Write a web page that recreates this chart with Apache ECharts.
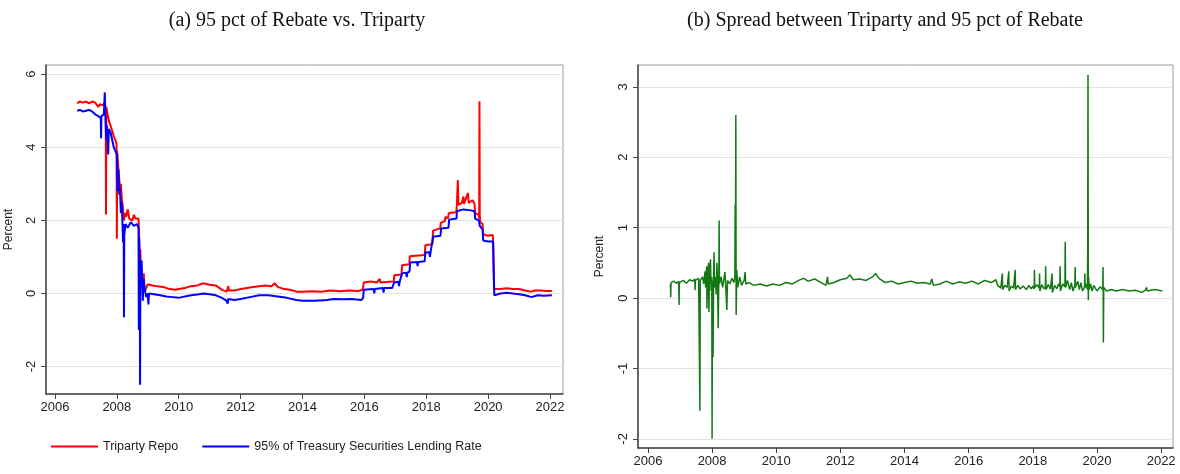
<!DOCTYPE html>
<html>
<head>
<meta charset="utf-8">
<script src="https://cdn.jsdelivr.net/npm/echarts@6/dist/echarts.min.js"></script>
<style>
html,body{margin:0;padding:0;background:#fff;}
#c{width:1180px;height:474px;}
</style>
</head>
<body>
<div id="c"></div>
<script>
// ---- data (decimal year, percent) ----
const yearTicks = [2006, 2008, 2010, 2012, 2014, 2016, 2018, 2020, 2022];
const leftYTicks = [-2, 0, 2, 4, 6];
const rightYTicks = [-2, -1, 0, 1, 2, 3];
const titleA = '(a) 95 pct of Rebate vs. Triparty';
const titleB = '(b) Spread between Triparty and 95 pct of Rebate';
const nameRepo = 'Triparty Repo';
const nameRebate = '95% of Treasury Securities Lending Rate';

const tripartyRepo = [
[2006.72,5.20],[2006.80,5.25],[2006.90,5.22],[2007.00,5.25],[2007.10,5.20],[2007.20,5.25],[2007.30,5.22],[2007.40,5.10],
[2007.45,5.18],[2007.55,5.15],[2007.60,5.22],[2007.64,5.05],[2007.65,2.16],[2007.66,5.10],[2007.70,4.90],[2007.75,4.70],
[2007.80,4.72],[2007.85,4.45],[2007.90,4.30],[2007.95,4.20],[2007.99,4.10],[2008.00,1.50],[2008.01,3.90],[2008.05,3.40],
[2008.08,3.10],[2008.10,2.80],[2008.13,3.00],[2008.16,2.60],[2008.20,2.30],[2008.23,2.00],[2008.26,2.20],[2008.30,2.10],
[2008.35,2.30],[2008.40,2.05],[2008.45,2.10],[2008.50,2.00],[2008.55,2.15],[2008.60,2.05],[2008.65,2.10],[2008.70,2.05],
[2008.72,1.60],[2008.74,0.90],[2008.76,1.20],[2008.78,0.50],[2008.80,0.70],[2008.84,0.20],[2008.87,0.55],[2008.90,0.05],
[2008.95,0.00],[2009.00,0.25],[2009.05,0.30],[2009.15,0.22],[2009.30,0.20],[2009.50,0.18],[2009.70,0.12],[2009.90,0.10],
[2010.00,0.12],[2010.20,0.15],[2010.40,0.20],[2010.60,0.22],[2010.80,0.28],[2011.00,0.24],[2011.20,0.22],[2011.40,0.10],
[2011.55,0.05],[2011.60,0.20],[2011.62,0.08],[2011.80,0.08],[2012.00,0.12],[2012.20,0.15],[2012.40,0.18],[2012.60,0.20],
[2012.80,0.22],[2013.00,0.20],[2013.10,0.28],[2013.20,0.18],[2013.40,0.12],[2013.60,0.10],[2013.80,0.05],[2014.00,0.05],
[2014.30,0.06],[2014.60,0.05],[2014.90,0.08],[2015.20,0.06],[2015.50,0.08],[2015.80,0.07],[2015.95,0.10],[2015.98,0.30],
[2016.20,0.33],[2016.40,0.30],[2016.50,0.40],[2016.52,0.30],[2016.80,0.32],[2016.95,0.33],[2016.97,0.50],[2017.20,0.52],
[2017.22,0.77],[2017.45,0.80],[2017.47,1.02],[2017.95,1.05],[2017.97,1.32],[2018.20,1.35],[2018.22,1.72],[2018.45,1.78],
[2018.47,1.93],[2018.60,1.98],[2018.62,2.10],[2018.70,2.05],[2018.73,2.20],[2018.97,2.22],[2018.99,2.42],[2019.02,3.10],
[2019.04,2.42],[2019.15,2.48],[2019.20,2.65],[2019.22,2.45],[2019.35,2.75],[2019.37,2.48],[2019.50,2.55],[2019.56,2.45],
[2019.58,2.20],[2019.70,2.15],[2019.71,2.05],[2019.72,5.26],[2019.73,2.10],[2019.75,1.95],[2019.82,1.90],[2019.84,1.62],
[2020.00,1.58],[2020.15,1.60],[2020.17,1.20],[2020.19,0.12],[2020.40,0.12],[2020.60,0.14],[2020.80,0.12],[2021.00,0.12],
[2021.20,0.08],[2021.40,0.05],[2021.50,0.08],[2021.70,0.08],[2021.90,0.07],[2022.06,0.07]
];

const rebate95 = [
[2006.72,5.00],[2006.80,5.02],[2006.90,4.98],[2007.00,5.00],[2007.10,5.02],[2007.20,4.98],[2007.30,4.90],[2007.40,4.85],
[2007.48,4.80],[2007.49,4.25],[2007.50,4.85],[2007.58,4.90],[2007.61,5.50],[2007.63,4.90],[2007.66,4.20],[2007.68,4.60],
[2007.72,3.80],[2007.74,4.50],[2007.80,4.40],[2007.85,4.20],[2007.90,4.00],[2007.95,3.90],[2008.00,3.80],[2008.02,2.80],
[2008.05,3.40],[2008.08,2.70],[2008.10,2.90],[2008.13,2.20],[2008.16,2.50],[2008.20,1.40],[2008.22,1.90],[2008.23,-0.65],
[2008.24,1.60],[2008.28,1.90],[2008.35,1.80],[2008.45,1.95],[2008.55,1.85],[2008.65,1.90],[2008.70,1.80],[2008.71,-1.00],
[2008.72,1.50],[2008.74,0.80],[2008.75,-2.50],[2008.76,0.60],[2008.80,0.90],[2008.84,-0.20],[2008.86,0.40],[2008.90,0.10],
[2008.95,-0.10],[2009.00,0.00],[2009.02,-0.30],[2009.04,0.00],[2009.10,0.05],[2009.20,-0.02],[2009.40,-0.05],[2009.60,-0.08],
[2009.80,-0.10],[2010.00,-0.12],[2010.20,-0.08],[2010.40,-0.05],[2010.60,-0.03],[2010.80,0.00],[2011.00,-0.02],[2011.20,-0.05],
[2011.40,-0.12],[2011.55,-0.20],[2011.58,-0.28],[2011.60,-0.15],[2011.80,-0.18],[2012.00,-0.15],[2012.30,-0.10],[2012.60,-0.05],
[2012.90,-0.05],[2013.20,-0.08],[2013.50,-0.12],[2013.80,-0.18],[2014.00,-0.20],[2014.40,-0.20],[2014.80,-0.18],[2015.00,-0.15],
[2015.30,-0.16],[2015.60,-0.15],[2015.90,-0.18],[2015.96,-0.12],[2015.98,0.10],[2016.30,0.12],[2016.32,0.00],[2016.34,0.12],
[2016.60,0.15],[2016.62,0.02],[2016.64,0.15],[2016.90,0.15],[2016.96,0.30],[2017.10,0.32],[2017.12,0.20],[2017.14,0.32],
[2017.20,0.35],[2017.22,0.55],[2017.35,0.57],[2017.37,0.45],[2017.39,0.57],[2017.46,0.60],[2017.48,0.85],[2017.70,0.86],
[2017.72,0.75],[2017.74,0.86],[2017.95,0.88],[2017.97,1.12],[2018.10,1.13],[2018.12,1.00],[2018.14,1.13],[2018.20,1.15],
[2018.22,1.55],[2018.46,1.58],[2018.48,1.78],[2018.72,1.80],[2018.74,2.02],[2018.98,2.05],[2018.99,2.25],[2019.20,2.30],
[2019.40,2.28],[2019.56,2.25],[2019.58,2.05],[2019.70,2.00],[2019.73,1.85],[2019.82,1.75],[2019.84,1.45],[2020.00,1.42],
[2020.16,1.42],[2020.18,0.60],[2020.20,-0.05],[2020.40,0.00],[2020.60,0.02],[2020.80,0.00],[2021.00,-0.02],[2021.20,-0.05],
[2021.40,-0.10],[2021.45,-0.05],[2021.60,-0.05],[2021.80,-0.06],[2022.06,-0.05]
];

const spread = [
[2006.70,0.20],[2006.71,0.01],[2006.72,0.22],[2006.80,0.24],[2006.90,0.21],[2006.96,0.24],[2006.97,-0.10],[2006.98,0.22],
[2007.10,0.25],[2007.20,0.21],[2007.30,0.26],[2007.40,0.24],[2007.46,0.27],[2007.47,0.11],[2007.48,0.25],[2007.58,0.28],
[2007.61,0.30],[2007.62,-1.60],[2007.63,0.25],[2007.70,0.30],[2007.74,0.20],[2007.78,0.38],[2007.80,0.15],[2007.83,0.45],
[2007.84,-0.15],[2007.86,0.30],[2007.89,0.50],[2007.90,-0.20],[2007.92,0.35],[2007.95,0.55],[2007.97,0.10],[2007.99,0.30],
[2008.00,-2.00],[2008.01,0.25],[2008.03,-0.84],[2008.05,0.40],[2008.06,0.65],[2008.08,0.15],[2008.10,0.30],[2008.13,0.05],
[2008.15,0.50],[2008.17,0.20],[2008.19,-0.43],[2008.21,0.30],[2008.22,1.10],[2008.23,0.20],[2008.28,0.30],[2008.33,0.15],
[2008.40,0.37],[2008.42,0.22],[2008.46,-0.17],[2008.48,0.25],[2008.55,0.20],[2008.62,0.28],[2008.68,0.22],[2008.71,0.30],
[2008.72,1.32],[2008.73,0.60],[2008.74,2.60],[2008.75,-0.24],[2008.77,0.40],[2008.80,0.15],[2008.86,0.30],[2008.92,0.18],
[2009.00,0.25],[2009.03,0.37],[2009.05,0.20],[2009.15,0.22],[2009.30,0.18],[2009.50,0.20],[2009.70,0.17],[2009.90,0.20],
[2010.10,0.18],[2010.30,0.22],[2010.50,0.20],[2010.70,0.25],[2010.85,0.28],[2011.00,0.24],[2011.20,0.27],[2011.40,0.22],
[2011.55,0.18],[2011.60,0.30],[2011.62,0.20],[2011.80,0.22],[2012.00,0.26],[2012.20,0.28],[2012.30,0.33],[2012.40,0.26],
[2012.60,0.27],[2012.80,0.25],[2013.00,0.30],[2013.10,0.35],[2013.20,0.28],[2013.40,0.22],[2013.60,0.24],[2013.80,0.20],
[2014.00,0.22],[2014.20,0.24],[2014.40,0.21],[2014.60,0.22],[2014.80,0.20],[2014.85,0.27],[2014.90,0.18],[2015.10,0.20],
[2015.30,0.24],[2015.50,0.20],[2015.70,0.23],[2015.90,0.21],[2016.10,0.24],[2016.30,0.20],[2016.50,0.25],[2016.70,0.22],
[2016.85,0.26],[2016.90,0.18],[2017.00,0.14],[2017.04,0.16],[2017.05,0.35],[2017.06,0.12],[2017.13,0.18],[2017.20,0.15],
[2017.24,0.14],[2017.25,0.38],[2017.26,0.10],[2017.33,0.17],[2017.40,0.14],[2017.44,0.15],[2017.45,0.40],[2017.46,0.12],
[2017.53,0.18],[2017.60,0.13],[2017.70,0.17],[2017.80,0.12],[2017.88,0.18],[2017.95,0.13],[2018.00,0.17],[2018.04,0.13],
[2018.05,0.40],[2018.06,0.15],[2018.13,0.19],[2018.20,0.14],[2018.21,0.35],[2018.22,0.10],[2018.28,0.19],[2018.35,0.13],
[2018.39,0.16],[2018.40,0.45],[2018.41,0.12],[2018.48,0.19],[2018.55,0.13],[2018.59,0.15],[2018.60,0.35],[2018.61,0.08],
[2018.68,0.18],[2018.75,0.13],[2018.80,0.20],[2018.84,0.16],[2018.85,0.45],[2018.86,0.10],[2018.93,0.20],[2019.00,0.16],
[2019.01,0.80],[2019.02,0.15],[2019.08,0.25],[2019.15,0.12],[2019.20,0.22],[2019.25,0.10],[2019.31,0.18],[2019.32,0.44],
[2019.33,0.15],[2019.40,0.24],[2019.45,0.12],[2019.50,0.22],[2019.55,0.10],[2019.61,0.15],[2019.62,0.35],[2019.63,0.15],
[2019.67,0.20],[2019.70,0.12],[2019.71,0.60],[2019.72,3.17],[2019.73,-0.03],[2019.74,0.30],[2019.76,0.12],[2019.80,0.20],
[2019.85,0.10],[2019.90,0.18],[2020.00,0.10],[2020.10,0.16],[2020.18,0.12],[2020.19,0.44],[2020.20,-0.63],[2020.21,0.15],
[2020.30,0.10],[2020.45,0.12],[2020.60,0.10],[2020.80,0.12],[2021.00,0.10],[2021.20,0.11],[2021.40,0.08],[2021.50,0.11],
[2021.54,0.10],[2021.55,0.15],[2021.56,0.10],[2021.80,0.12],[2022.04,0.10]
];

// ---- chart ----
const chart = echarts.init(document.getElementById('c'), null, {renderer: 'canvas'});
const sans = 'Liberation Sans, Arial, sans-serif';
const axisDark = '#444';

function xAxis(gridIndex, min, max) {
  return {
    type: 'value', gridIndex, min, max,
    axisLine: {show: true, onZero: false, lineStyle: {color: axisDark, width: 1.5}},
    axisTick: {show: true, inside: false, length: 5, customValues: yearTicks, lineStyle: {color: axisDark}},
    axisLabel: {customValues: yearTicks, color: '#222', fontFamily: sans, fontSize: 13, margin: 7,
      formatter: v => String(Math.round(v))},
    splitLine: {show: false}
  };
}
function yAxis(gridIndex, min, max, ticks, gap) {
  return {
    type: 'value', gridIndex, min, max,
    name: 'Percent', nameLocation: 'middle', nameGap: gap, nameRotate: 90,
    nameTextStyle: {color: '#222', fontFamily: sans, fontSize: 12},
    axisLine: {show: true, onZero: false, lineStyle: {color: axisDark, width: 1.5}},
    axisTick: {show: true, length: 5, customValues: ticks, lineStyle: {color: axisDark}},
    axisLabel: {customValues: ticks, rotate: 90, color: '#222', fontFamily: sans, fontSize: 13, margin: 8,
      formatter: v => String(Math.round(v))},
    splitLine: {show: true, lineStyle: {color: '#e3e3e3', width: 1}}
  };
}

chart.setOption({
  animation: false,
  backgroundColor: '#fff',
  title: [
    {text: titleA, left: 292, top: 6, textAlign: 'center',
     textStyle: {fontFamily: 'Liberation Serif, Times New Roman, serif', fontWeight: 'normal', fontSize: 20, color: '#111'}},
    {text: titleB, left: 880, top: 6, textAlign: 'center',
     textStyle: {fontFamily: 'Liberation Serif, Times New Roman, serif', fontWeight: 'normal', fontSize: 20, color: '#111'}}
  ],
  legend: {
    left: 46, top: 435, itemWidth: 47, itemHeight: 2, itemGap: 24, icon: 'rect',
    textStyle: {fontFamily: sans, fontSize: 12.5, color: '#222'},
    data: [nameRepo, nameRebate]
  },
  grid: [
    {left: 46, top: 65, width: 517, height: 329, show: true, borderColor: '#9a9a9a', borderWidth: 1},
    {left: 638, top: 65, width: 535, height: 383, show: true, borderColor: '#9a9a9a', borderWidth: 1}
  ],
  xAxis: [xAxis(0, 2005.71, 2022.42), xAxis(1, 2005.69, 2022.37)],
  yAxis: [yAxis(0, -2.75, 6.25, leftYTicks, 31), yAxis(1, -2.13, 3.31, rightYTicks, 32)],
  series: [
    {name: nameRepo, type: 'line', xAxisIndex: 0, yAxisIndex: 0, data: tripartyRepo,
     showSymbol: false, color: '#ff0000', lineStyle: {color: '#ff0000', width: 2}},
    {name: nameRebate, type: 'line', xAxisIndex: 0, yAxisIndex: 0, data: rebate95,
     showSymbol: false, color: '#0000ff', lineStyle: {color: '#0000ff', width: 2}},
    {name: 'Spread', type: 'line', xAxisIndex: 1, yAxisIndex: 1, data: spread,
     showSymbol: false, color: '#137a13', lineStyle: {color: '#137a13', width: 1.5}}
  ]
});
</script>
</body>
</html>
